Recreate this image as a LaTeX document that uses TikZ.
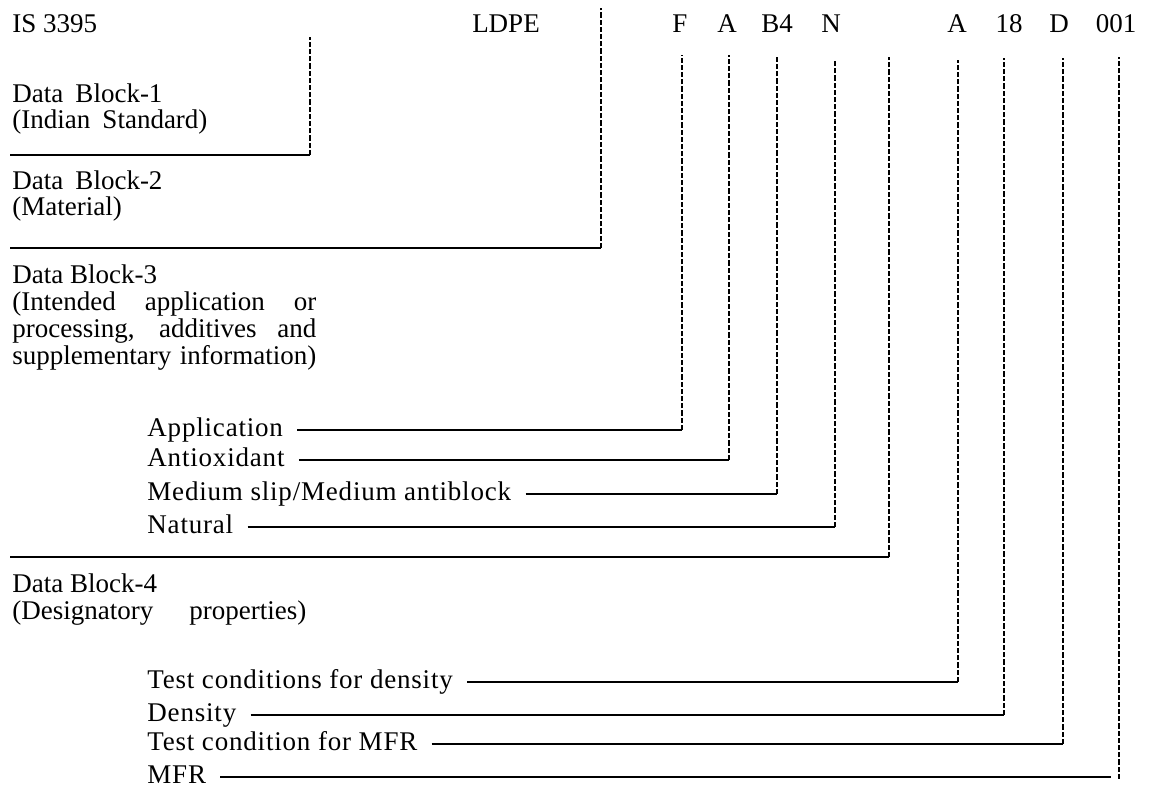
\documentclass[tikz,border=0pt]{standalone}
\usepackage{fontspec}
\setmainfont{Liberation Serif}
\newfontfamily\lblfont[LetterSpace=3]{Liberation Serif}
\begin{document}
\begin{tikzpicture}[x=0.5pt,y=-0.5pt,
  txt/.style={anchor=base west,inner sep=0,font=\fontsize{13.5}{13.5}\selectfont},
  code/.style={anchor=base,inner sep=0,font=\fontsize{13.5}{13.5}\selectfont},
  lbl/.style={anchor=west,inner ysep=0,inner xsep=7pt,text height=9.5pt,text depth=2.5pt,
              font=\lblfont\fontsize{13.5}{13.5}\selectfont},
  hline/.style={line width=0.6pt},
  vline/.style={line width=0.7pt,dash pattern=on 2.6pt off 1pt}]
\useasboundingbox (0,0) rectangle (1164,807);
% top row
\node[txt]  (is)   at (12,33)  {IS 3395};
\node[code] (ldpe) at (506,33) {LDPE};
\node[code] (kF)   at (680,33) {F};
\node[code] (kA)   at (727,33) {A};
\node[code] (kB)   at (777,33) {B4};
\node[code] (kN)   at (831,33) {N};
\node[code] (kA2)  at (957,33) {A};
\node[code] (k18)  at (1009,33) {18};
\node[code] (kD)   at (1059,33) {D};
\node[code] (k001) at (1116,33) {001};
% data block 1
\node[txt] (db1a) at (12,103) {Data\hspace{0.45em}Block-1};
\node[txt] (db1b) at (12,129) {(Indian\hspace{0.45em}Standard)};
\coordinate (s1) at (10,155); \coordinate (c1) at (310,155); \coordinate (t1) at (310,37);
\draw[hline] (s1) -- (c1); \draw[vline] (c1) -- (t1);
% data block 2
\node[txt] (db2a) at (12,190) {Data\hspace{0.45em}Block-2};
\node[txt] (db2b) at (12,216) {(Material)};
\coordinate (s2) at (10,248); \coordinate (c2) at (601,248); \coordinate (t2) at (601,8);
\draw[hline] (s2) -- (c2); \draw[vline] (c2) -- (t2);
% data block 3
\node[txt] (db3a) at (12,284) {Data Block-3};
\node[txt] (db3b) at (12,311) {\makebox[152pt][s]{(Intended application or}};
\node[txt] (db3c) at (12,338) {\makebox[152pt][s]{processing, additives and}};
\node[txt] (db3d) at (12,365) {\makebox[152pt][s]{supplementary information)}};
\node[lbl] (app) at (133,430) {Application};
\node[lbl] (aox) at (133,460) {Antioxidant};
\node[lbl] (msl) at (133,494) {Medium slip/Medium antiblock};
\node[lbl] (nat) at (133,527) {Natural};
\coordinate (cF) at (682,430); \coordinate (tF) at (682,55);
\coordinate (cA) at (729,460); \coordinate (tA) at (729,55);
\coordinate (cB) at (777,494); \coordinate (tB) at (777,57);
\coordinate (cN) at (835,527); \coordinate (tN) at (835,60);
\draw[hline] (app.east) -- (cF); \draw[vline] (cF) -- (tF);
\draw[hline] (aox.east) -- (cA); \draw[vline] (cA) -- (tA);
\draw[hline] (msl.east) -- (cB); \draw[vline] (cB) -- (tB);
\draw[hline] (nat.east) -- (cN); \draw[vline] (cN) -- (tN);
\coordinate (s3) at (10,557); \coordinate (c3) at (889,557); \coordinate (t3) at (889,57);
\draw[hline] (s3) -- (c3); \draw[vline] (c3) -- (t3);
% data block 4
\node[txt] (db4a) at (12,593) {Data Block-4};
\node[txt] (db4b) at (12,620) {\makebox[147pt][s]{(Designatory properties)}};
\node[lbl] (tcd) at (133,682) {Test conditions for density};
\node[lbl] (den) at (133,715) {Density};
\node[lbl] (tcm) at (133,744) {Test condition for MFR};
\node[lbl] (mfr) at (133,777) {MFR};
\coordinate (cA2) at (958,682);  \coordinate (tA2) at (958,60);
\coordinate (c18) at (1004,715); \coordinate (t18) at (1004,58);
\coordinate (cD)  at (1063,744); \coordinate (tD)  at (1063,58);
\coordinate (c01) at (1119,779); \coordinate (t01) at (1119,57);
\coordinate (e01) at (1111,777);
\draw[hline] (tcd.east) -- (cA2); \draw[vline] (cA2) -- (tA2);
\draw[hline] (den.east) -- (c18); \draw[vline] (c18) -- (t18);
\draw[hline] (tcm.east) -- (cD);  \draw[vline] (cD) -- (tD);
\draw[hline] (mfr.east) -- (e01); \draw[vline] (c01) -- (t01);
\end{tikzpicture}
\end{document}
